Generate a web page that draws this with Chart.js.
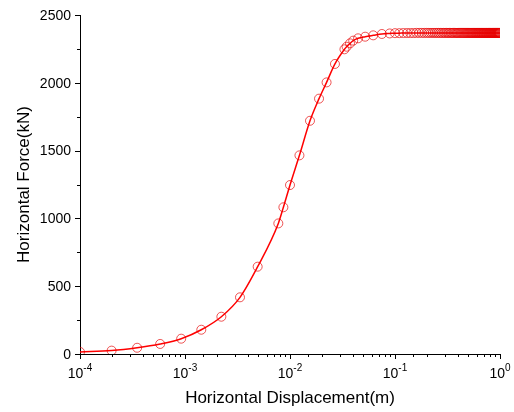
<!DOCTYPE html>
<html>
<head>
<meta charset="utf-8">
<script src="https://cdn.jsdelivr.net/npm/chart.js@4"></script>
<style>
  html, body { margin: 0; padding: 0; background: #fff; }
  #wrap { width: 514px; height: 412px; }
</style>
</head>
<body>
<div id="wrap"><canvas id="myChart" width="514" height="412"></canvas></div>
<script>
'use strict';

// displacement (m)
let dispValues = [
  0.0001, 0.0002, 0.00035, 0.00058, 0.00092, 0.00143, 0.00222, 0.00334, 0.00492,
  0.00774, 0.00865, 0.0100, 0.0123, 0.0155, 0.0189, 0.0223, 0.0268, 0.0330,
  0.0346, 0.0373, 0.0400, 0.0445, 0.0520, 0.0620, 0.0750, 0.0890,
  0.10, 0.11, 0.12, 0.13, 0.14, 0.15, 0.16, 0.17, 0.18, 0.19,
  0.20, 0.21, 0.22, 0.23, 0.24, 0.25, 0.26, 0.27, 0.28, 0.29,
  0.30, 0.31, 0.32, 0.33, 0.34, 0.35, 0.36, 0.37, 0.38, 0.39,
  0.40, 0.41, 0.42, 0.43, 0.44, 0.45, 0.46, 0.47, 0.48, 0.49,
  0.50, 0.51, 0.52, 0.53, 0.54, 0.55, 0.56, 0.57, 0.58, 0.59,
  0.60, 0.61, 0.62, 0.63, 0.64, 0.65, 0.66, 0.67, 0.68, 0.69,
  0.70, 0.71, 0.72, 0.73, 0.74, 0.75, 0.76, 0.77, 0.78, 0.79,
  0.80, 0.81, 0.82, 0.83, 0.84, 0.85, 0.86, 0.87, 0.88, 0.89,
  0.90, 0.91, 0.92, 0.93, 0.94, 0.95, 0.96, 0.97, 0.98, 0.99, 1.00
];
// horizontal force (kN)
let forceValues = [
  15, 25, 46, 74, 113, 179, 275, 418, 644,
  963, 1082, 1246, 1465, 1720, 1883, 2003, 2139, 2247,
  2266, 2291, 2311, 2328, 2340, 2350, 2360, 2364,
  2366, 2366, 2367, 2367, 2367, 2367, 2368, 2368, 2368, 2368,
  2368, 2368, 2368, 2368, 2368, 2368, 2368, 2368, 2368, 2368,
  2368, 2368, 2368, 2368, 2368, 2368, 2368, 2368, 2368, 2368,
  2368, 2368, 2368, 2368, 2368, 2368, 2368, 2368, 2368, 2368,
  2368, 2368, 2368, 2368, 2368, 2368, 2368, 2368, 2368, 2368,
  2368, 2368, 2368, 2368, 2368, 2368, 2368, 2368, 2368, 2368,
  2368, 2368, 2368, 2368, 2368, 2368, 2368, 2368, 2368, 2368,
  2368, 2368, 2368, 2368, 2368, 2368, 2368, 2368, 2368, 2368,
  2368, 2368, 2368, 2368, 2368, 2368, 2368, 2368, 2368, 2368, 2368
];
let xTickExponents = ['-4', '-3', '-2', '-1', '0'];
let yTickLabels = [0, 500, 1000, 1500, 2000, 2500];

let fontName = '"Liberation Sans", Arial, sans-serif';

let points = [];
for (let i = 0; i < dispValues.length; i++) {
  points.push({x: dispValues[i], y: forceValues[i]});
}

// draws Origin-style ticks (long major, short minor) and the 10^n labels
let axisTicksPlugin = {
  id: 'axisTicks',
  afterDraw(chart) {
    let ctx = chart.ctx;
    let xs = chart.scales.x;
    let ys = chart.scales.y;
    let area = chart.chartArea;
    ctx.save();
    ctx.strokeStyle = '#000';
    ctx.lineWidth = 1;
    ctx.fillStyle = '#000';

    // x ticks
    xs.ticks.forEach(function(t) {
      let lg = Math.log10(t.value);
      let major = Math.abs(lg - Math.round(lg)) < 1e-9;
      let px = Math.round(xs.getPixelForValue(t.value)) + 0.5;
      ctx.beginPath();
      ctx.moveTo(px, area.bottom);
      ctx.lineTo(px, area.bottom + (major ? 5 : 3));
      ctx.stroke();
    });
    // x labels
    ctx.textBaseline = 'alphabetic';
    ctx.textAlign = 'left';
    for (let i = 0; i < xTickExponents.length; i++) {
      let v = Math.pow(10, Number(xTickExponents[i]));
      let px = xs.getPixelForValue(v);
      ctx.font = '14px ' + fontName;
      let w1 = ctx.measureText('10').width;
      ctx.font = '10px ' + fontName;
      let exp = xTickExponents[i];
      let w2 = ctx.measureText(exp).width;
      let left = px - (w1 + w2) / 2;
      ctx.font = '14px ' + fontName;
      ctx.fillText('10', left, area.bottom + 24);
      ctx.font = '10px ' + fontName;
      ctx.fillText(exp, left + w1, area.bottom + 17);
    }

    // y ticks
    ys.ticks.forEach(function(t) {
      let major = t.value % 500 === 0;
      let py = Math.round(ys.getPixelForValue(t.value)) + 0.5;
      ctx.beginPath();
      ctx.moveTo(area.left, py);
      ctx.lineTo(area.left - (major ? 5 : 3), py);
      ctx.stroke();
    });
    ctx.font = '14px ' + fontName;
    ctx.textAlign = 'right';
    ctx.textBaseline = 'middle';
    yTickLabels.forEach(function(v) {
      let py = ys.getPixelForValue(v);
      ctx.fillText(String(v), area.left - 9, py + 1);
    });
    ctx.restore();
  }
};

let ctx = document.getElementById('myChart').getContext('2d');
let chart = new Chart(ctx, {
  type: 'line',
  data: {
    datasets: [{
      label: 'Horizontal Force',
      data: points,
      borderColor: '#ff0000',
      borderWidth: 1.5,
      cubicInterpolationMode: 'monotone',
      pointStyle: 'circle',
      pointRadius: 4.5,
      pointBorderWidth: 0.9,
      pointBorderColor: 'rgba(230, 0, 0, 0.75)',
      pointBackgroundColor: 'rgba(0,0,0,0)',
      fill: false
    }]
  },
  options: {
    responsive: false,
    animation: false,
    devicePixelRatio: 1,
    layout: { padding: { left: 14, right: 14, top: 15, bottom: 0 } },
    plugins: {
      legend: { display: false },
      tooltip: { enabled: false }
    },
    scales: {
      x: {
        type: 'logarithmic',
        min: 0.0001,
        max: 1,
        grid: { display: false },
        border: { display: true, color: '#000', width: 1 },
        ticks: { display: false },
        title: {
          display: true,
          text: 'Horizontal Displacement(m)',
          color: '#000',
          font: { family: fontName, size: 17 },
          padding: { top: 0, bottom: 3 }
        },
        afterFit(scale) { scale.height = 58; }
      },
      y: {
        min: 0,
        max: 2500,
        grid: { display: false },
        border: { display: true, color: '#000', width: 1 },
        ticks: { display: false, stepSize: 250 },
        title: {
          display: true,
          text: 'Horizontal Force(kN)',
          color: '#000',
          font: { family: fontName, size: 17 },
          padding: { top: 0, bottom: 0 }
        },
        afterFit(scale) { scale.width = 66; }
      }
    }
  },
  plugins: [axisTicksPlugin]
});
</script>
</body>
</html>
